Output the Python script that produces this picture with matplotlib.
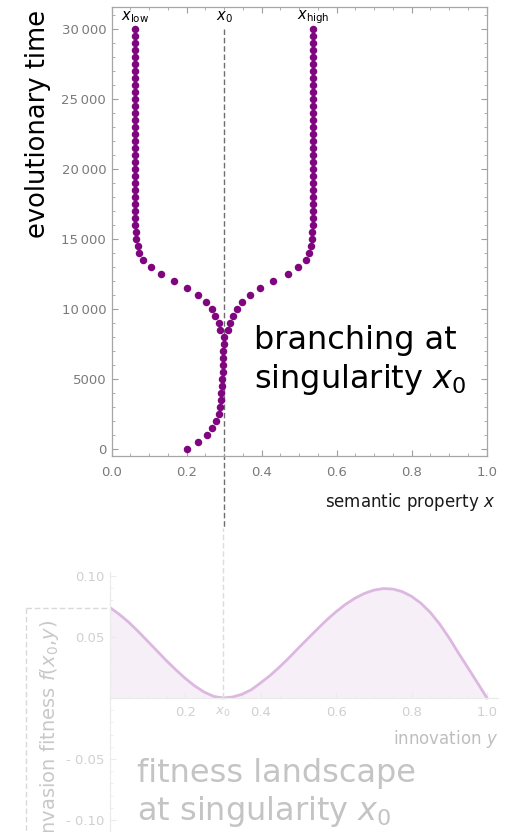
import matplotlib.pyplot as plt
from matplotlib.ticker import MultipleLocator, FuncFormatter, FormatStrFormatter

plt.rcParams['font.family'] = ['DejaVu Sans']
plt.rcParams['mathtext.fontset'] = 'dejavusans'

# evolutionary trajectory, one point every 500 time units
t_trunk = list(range(0, 8001, 500))
x_trunk = [0.200, 0.231, 0.253, 0.267, 0.277, 0.285, 0.288, 0.291, 0.292,
           0.294, 0.295, 0.296, 0.297, 0.2975, 0.298, 0.2985, 0.299]

t_branch = list(range(8500, 30001, 500))
x_low = [0.289, 0.2853, 0.2755, 0.2667, 0.2507, 0.2309, 0.2016, 0.1669, 0.1323,
         0.104, 0.0843, 0.0728, 0.0693, 0.0656, 0.064, 0.063, 0.0625, 0.062,
         0.062, 0.062, 0.062, 0.062, 0.062, 0.062, 0.062, 0.062, 0.062, 0.062,
         0.062, 0.062, 0.062, 0.062, 0.062, 0.062, 0.062, 0.062, 0.062, 0.062,
         0.062, 0.062, 0.062, 0.062, 0.062, 0.062]
x_high = [0.309, 0.3155, 0.3243, 0.3333, 0.3483, 0.368, 0.3963, 0.4309, 0.4693,
          0.4976, 0.5173, 0.5261, 0.5307, 0.5333, 0.535, 0.536, 0.537, 0.5376,
          0.5376, 0.5376, 0.5376, 0.5376, 0.5376, 0.5376, 0.5376, 0.5376, 0.5376,
          0.5376, 0.5376, 0.5376, 0.5376, 0.5376, 0.5376, 0.5376, 0.5376, 0.5376,
          0.5376, 0.5376, 0.5376, 0.5376, 0.5376, 0.5376, 0.5376, 0.5376]

X0 = 0.3
X_LOW = 0.062
X_HIGH = 0.5376

# fitness landscape at the singularity (read every 0.025)
y_innov = [0.000, 0.025, 0.050, 0.075, 0.100, 0.125, 0.150, 0.175, 0.200,
           0.225, 0.250, 0.275, 0.300, 0.325, 0.350, 0.375, 0.400, 0.425,
           0.450, 0.475, 0.500, 0.525, 0.550, 0.575, 0.600, 0.625, 0.650,
           0.675, 0.700, 0.725, 0.750, 0.775, 0.800, 0.825, 0.850, 0.875,
           0.900, 0.925, 0.950, 0.975, 1.000]
fitness = [0.0741, 0.0685, 0.0620, 0.0545, 0.0465, 0.0385, 0.0305, 0.0230,
           0.0160, 0.0098, 0.0048, 0.0013, 0.0000, 0.0008, 0.0030, 0.0068,
           0.0125, 0.0185, 0.0255, 0.0330, 0.0410, 0.0488, 0.0565, 0.0640,
           0.0708, 0.0768, 0.0818, 0.0857, 0.0884, 0.0897, 0.0893, 0.0872,
           0.0833, 0.0776, 0.0700, 0.0604, 0.0490, 0.0365, 0.0245, 0.0123,
           0.0000]

purple = '#80067f'

fig = plt.figure(figsize=(5.15, 8.32), dpi=100)

# --- top panel ---
ax1 = fig.add_axes([0.2169, 0.4519, 0.7282, 0.5400])
ax1.set_xlim(0, 1)
ax1.set_ylim(-480, 31615)

ax1.plot([X0, X0], [30000, -5620], color='#6e6e6e', lw=1.0, dashes=(4, 2),
         clip_on=False, zorder=1)
ax1.plot(x_trunk, t_trunk, 'o', color=purple, ms=5.4, mew=0, zorder=3)
ax1.plot(x_low, t_branch, 'o', color=purple, ms=5.4, mew=0, zorder=3)
ax1.plot(x_high, t_branch, 'o', color=purple, ms=5.4, mew=0, zorder=3)

for xx, lab in [(X_LOW, r'$x_\mathrm{low}$'), (X0, r'$x_0$'), (X_HIGH, r'$x_\mathrm{high}$')]:
    ax1.text(xx, 30880, lab, ha='center', va='center', fontsize=10.5)

ax1.text(0.3795, 6300, 'branching at\nsingularity $x_0$', ha='left', va='center',
         fontsize=23, linespacing=1.25)

for s in ax1.spines.values():
    s.set_color('#a6a6a6')
    s.set_linewidth(0.9)
ax1.xaxis.set_major_locator(MultipleLocator(0.2))
ax1.xaxis.set_minor_locator(MultipleLocator(0.05))
ax1.yaxis.set_major_locator(MultipleLocator(5000))
ax1.yaxis.set_minor_locator(MultipleLocator(1000))
ax1.xaxis.set_major_formatter(FormatStrFormatter('%.1f'))
ax1.yaxis.set_major_formatter(FuncFormatter(
    lambda v, p: f'{int(v):,}'.replace(',', '\u2009') if v >= 10000 else f'{int(v)}'))
ax1.tick_params(which='both', direction='in', top=True, right=True,
                color='#a0a0a0', labelcolor='#7a7a7a', labelsize=9.5)
ax1.tick_params(which='major', length=4.5, width=0.8)
ax1.tick_params(which='minor', length=2.5, width=0.6)
ax1.tick_params(axis='x', pad=7)
ax1.tick_params(axis='y', pad=4)

fig.text(38 / 515, 1 - 123.5 / 832, 'evolutionary time', rotation=90,
         ha='center', va='center', fontsize=18.5)
fig.text(495 / 515, 1 - 507 / 832, 'semantic property $x$', ha='right',
         va='baseline', fontsize=12, color='#1a1a1a')

# --- bottom panel (faded) ---
ax2 = fig.add_axes([110 / 515, -12.4 / 832, 388.3 / 515, 272.7 / 832])
ax2.set_xlim(0, 1.03)
ax2.set_ylim(-0.12, 0.1035)
ax2.patch.set_alpha(0)

ax2.fill_between(y_innov, fitness, 0, color='#f6eff8', lw=0)
ax2.plot(y_innov, fitness, color='#dcb8e1', lw=2, solid_joinstyle='round')
ax2.plot([X0, X0], [0, 0.139], color='#dcdcdc', lw=1.0, dashes=(4, 2),
         clip_on=False)
ax2.plot([-0.223, 0], [fitness[0], fitness[0]], color='#d9d9d9', lw=1.0,
         dashes=(4, 2), clip_on=False)
ax2.plot([-0.223, -0.223], [fitness[0], -0.2], color='#d9d9d9', lw=1.0,
         dashes=(4, 2), clip_on=False)

ax2.spines['bottom'].set_position(('data', 0))
ax2.spines[['top', 'right']].set_visible(False)
for s in ['left', 'bottom']:
    ax2.spines[s].set_color('#ebebeb')
    ax2.spines[s].set_linewidth(0.9)
ax2.set_xticks([0.2, 0.3, 0.4, 0.6, 0.8, 1.0],
               ['0.2', '$x_0$', '0.4', '0.6', '0.8', '1.0'])
ax2.xaxis.set_minor_locator(MultipleLocator(0.05))
ax2.set_yticks([-0.1, -0.05, 0.05, 0.1], ['- 0.10', '- 0.05', '0.05', '0.10'])
ax2.yaxis.set_minor_locator(MultipleLocator(0.01))
ax2.tick_params(which='both', direction='in', color='#ebebeb',
                labelcolor='#d0d0d0', labelsize=9.5)
ax2.tick_params(which='major', length=4.5, width=0.8)
ax2.tick_params(which='minor', length=2.5, width=0.6)
ax2.tick_params(axis='x', pad=6)
ax2.tick_params(axis='y', pad=4)

fig.text(498 / 515, 1 - 744 / 832, 'innovation $y$', ha='right', va='baseline',
         fontsize=12, color='#bebebe')
fig.text(50 / 515, 1 - 729 / 832, r'invasion fitness $f(x_0{,}y)$', rotation=90,
         ha='center', va='center', fontsize=14, color='#c8c8c8')
fig.text(137 / 515, 1 - 781.7 / 832, 'fitness landscape', ha='left',
         va='baseline', fontsize=23, color='#c4c4c4')
fig.text(137 / 515, 1 - 820 / 832, 'at singularity $x_0$', ha='left',
         va='baseline', fontsize=23, color='#c4c4c4')

fig.savefig('out.png', dpi=100)
